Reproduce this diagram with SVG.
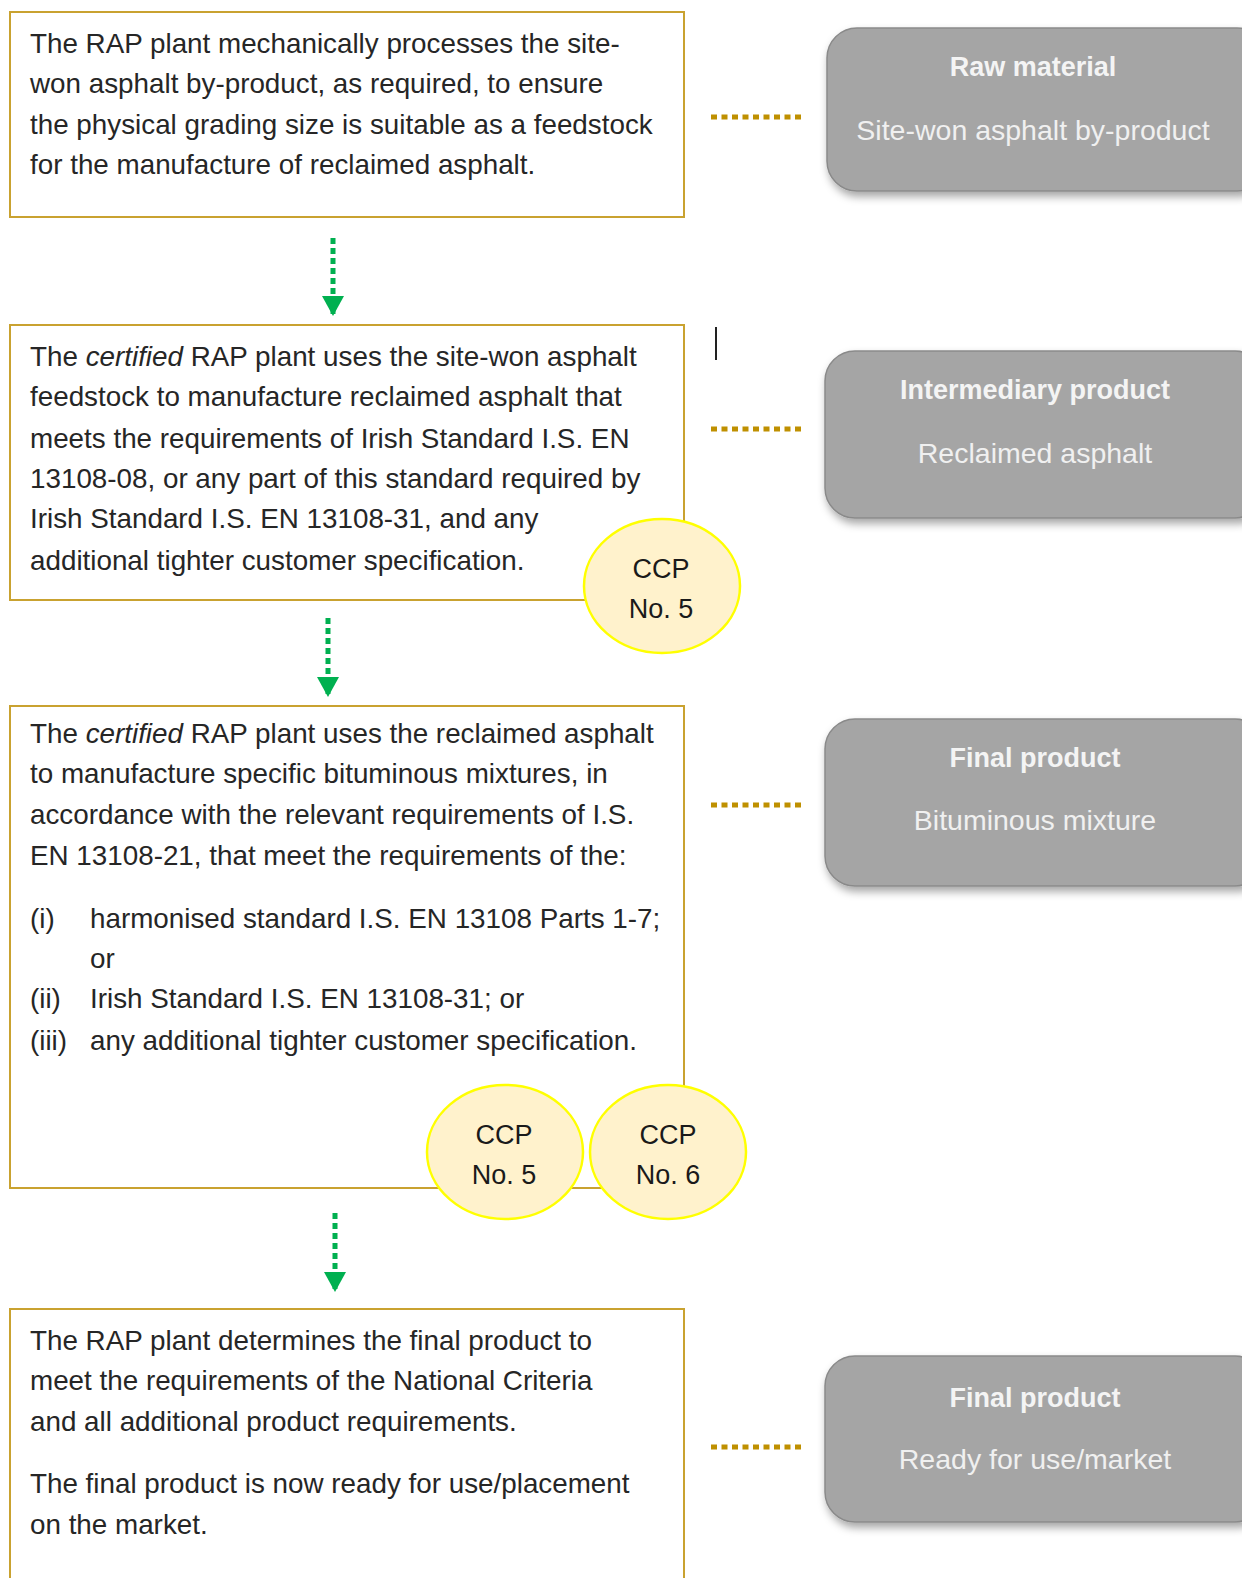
<svg xmlns="http://www.w3.org/2000/svg" width="1242" height="1578" viewBox="0 0 1242 1578">
<defs>
<filter id="sh" x="-10%" y="-10%" width="130%" height="140%">
<feDropShadow dx="2" dy="5" stdDeviation="4" flood-color="#000" flood-opacity="0.35"/>
</filter>
<marker id="ga" viewBox="0 0 20 22" refX="19" refY="11" markerWidth="20" markerHeight="22" markerUnits="userSpaceOnUse" orient="auto">
<path d="M0,0 L20,11 L0,22 Z" fill="#00b050"/>
</marker>
</defs>
<style>
.box{fill:#fff;stroke:#c9a230;stroke-width:2}
.gbox{fill:#a5a5a5;stroke:#8a8a8a;stroke-width:1.5;filter:url(#sh)}
.ccp{fill:#fff2cc;stroke:#ffff00;stroke-width:2.5}
.t{font-family:"Liberation Sans",Arial,sans-serif;font-size:27.8px;fill:#262626}
.c{font-family:"Liberation Sans",Arial,sans-serif;font-size:27px;fill:#1a1a1a;text-anchor:middle}
.gh{font-family:"Liberation Sans",Arial,sans-serif;font-size:27px;font-weight:bold;fill:#f4f4f4;text-anchor:middle}
.gs{font-family:"Liberation Sans",Arial,sans-serif;font-size:28.5px;fill:#f0f0f0;text-anchor:middle}
.dot{stroke:#bf9000;stroke-width:5;stroke-dasharray:6 4.5;fill:none}
.arr{stroke:#00b050;stroke-width:5;stroke-dasharray:6 4;fill:none}
</style>
<rect width="1242" height="1578" fill="#fff"/>

<g id="connectors">
<line class="arr" x1="333" y1="238" x2="333" y2="315" marker-end="url(#ga)"/>
<line class="arr" x1="328" y1="618" x2="328" y2="696" marker-end="url(#ga)"/>
<line class="arr" x1="335" y1="1213" x2="335" y2="1291" marker-end="url(#ga)"/>
<line class="dot" x1="711" y1="117" x2="801" y2="117"/>
<line class="dot" x1="711" y1="429" x2="801" y2="429"/>
<line class="dot" x1="711" y1="805" x2="801" y2="805"/>
<line class="dot" x1="711" y1="1447" x2="801" y2="1447"/>
</g>

<g id="step1">
<rect class="box" x="10" y="12" width="674" height="205"/>
<text class="t" x="30" y="53">The RAP plant mechanically processes the site-</text>
<text class="t" x="30" y="93">won asphalt by-product, as required, to ensure</text>
<text class="t" x="30" y="134">the physical grading size is suitable as a feedstock</text>
<text class="t" x="30" y="174">for the manufacture of reclaimed asphalt.</text>
</g>

<g id="step2">
<rect class="box" x="10" y="325" width="674" height="275"/>
<text class="t" x="30" y="366">The <tspan font-style="italic">certified</tspan> RAP plant uses the site-won asphalt</text>
<text class="t" x="30" y="406">feedstock to manufacture reclaimed asphalt that</text>
<text class="t" x="30" y="448">meets the requirements of Irish Standard I.S. EN</text>
<text class="t" x="30" y="488">13108-08, or any part of this standard required by</text>
<text class="t" x="30" y="528">Irish Standard I.S. EN 13108-31, and any</text>
<text class="t" x="30" y="570">additional tighter customer specification.</text>
</g>

<g id="ccp-a">
<ellipse class="ccp" cx="662" cy="586" rx="78" ry="67"/>
<text class="c" x="661" y="578">CCP</text>
<text class="c" x="661" y="618">No. 5</text>
</g>

<g id="step3">
<rect class="box" x="10" y="706" width="674" height="482"/>
<text class="t" x="30" y="743">The <tspan font-style="italic">certified</tspan> RAP plant uses the reclaimed asphalt</text>
<text class="t" x="30" y="783">to manufacture specific bituminous mixtures, in</text>
<text class="t" x="30" y="824">accordance with the relevant requirements of I.S.</text>
<text class="t" x="30" y="865">EN 13108-21, that meet the requirements of the:</text>
<text class="t" x="30" y="928">(i)</text>
<text class="t" x="90" y="928">harmonised standard I.S. EN 13108 Parts 1-7;</text>
<text class="t" x="90" y="968">or</text>
<text class="t" x="30" y="1008">(ii)</text>
<text class="t" x="90" y="1008">Irish Standard I.S. EN 13108-31; or</text>
<text class="t" x="30" y="1050">(iii)</text>
<text class="t" x="90" y="1050">any additional tighter customer specification.</text>
</g>

<g id="ccp-b">
<ellipse class="ccp" cx="505" cy="1152" rx="78" ry="67"/>
<text class="c" x="504" y="1144">CCP</text>
<text class="c" x="504" y="1184">No. 5</text>
</g>

<g id="ccp-c">
<ellipse class="ccp" cx="668" cy="1152" rx="78" ry="67"/>
<text class="c" x="668" y="1144">CCP</text>
<text class="c" x="668" y="1184">No. 6</text>
</g>

<g id="step4">
<rect class="box" x="10" y="1309" width="674" height="290"/>
<text class="t" x="30" y="1350">The RAP plant determines the final product to</text>
<text class="t" x="30" y="1390">meet the requirements of the National Criteria</text>
<text class="t" x="30" y="1431">and all additional product requirements.</text>
<text class="t" x="30" y="1493">The final product is now ready for use/placement</text>
<text class="t" x="30" y="1534">on the market.</text>
</g>

<g id="raw-material">
<rect class="gbox" x="827" y="28" width="440" height="163" rx="30"/>
<text class="gh" x="1033" y="76">Raw material</text>
<text class="gs" x="1033" y="140">Site-won asphalt by-product</text>
</g>

<g id="intermediary">
<rect class="gbox" x="825" y="351" width="440" height="167" rx="30"/>
<text class="gh" x="1035" y="399">Intermediary product</text>
<text class="gs" x="1035" y="463">Reclaimed asphalt</text>
</g>

<g id="final-bituminous">
<rect class="gbox" x="825" y="719" width="440" height="167" rx="30"/>
<text class="gh" x="1035" y="767">Final product</text>
<text class="gs" x="1035" y="830">Bituminous mixture</text>
</g>

<g id="final-market">
<rect class="gbox" x="825" y="1356" width="440" height="166" rx="30"/>
<text class="gh" x="1035" y="1407">Final product</text>
<text class="gs" x="1035" y="1469">Ready for use/market</text>
</g>

<line x1="716" y1="327" x2="716" y2="360" stroke="#222" stroke-width="2"/>
</svg>
